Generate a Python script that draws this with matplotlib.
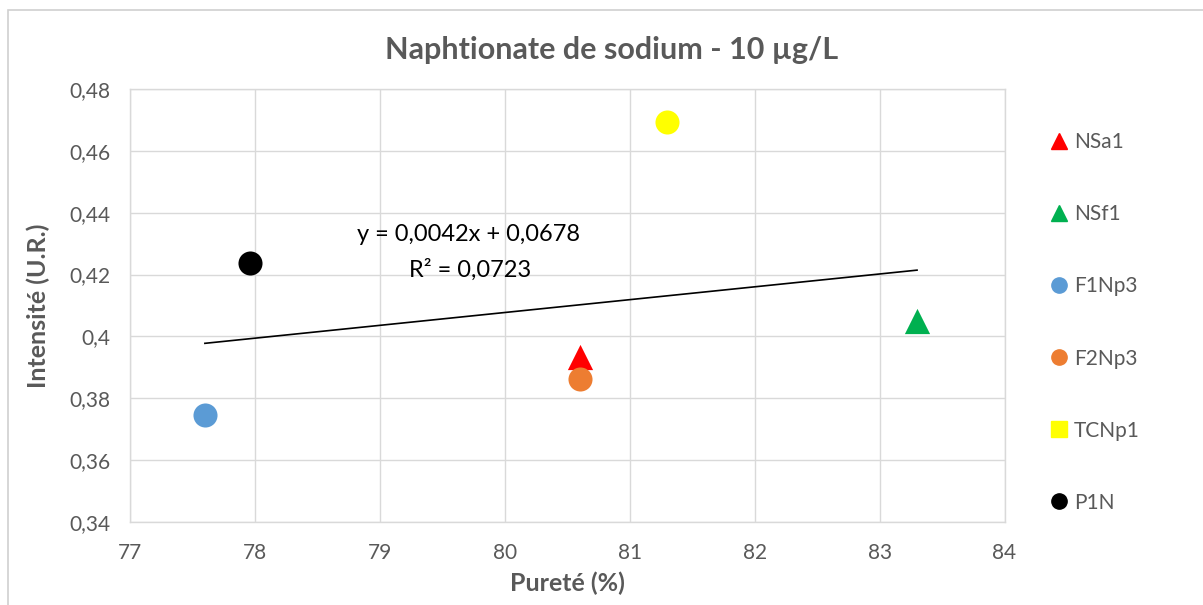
import matplotlib.pyplot as plt
from matplotlib.lines import Line2D
from matplotlib.patches import Rectangle
from matplotlib.ticker import FuncFormatter
import numpy as np

plt.rcParams['font.family'] = ['Lato', 'DejaVu Sans']

# data
names = ['NSa1', 'NSf1', 'F1Np3', 'F2Np3', 'TCNp1', 'P1N']
purete = [80.6, 83.3, 77.6, 80.6, 81.3, 77.96]
intensite = [0.3933, 0.405, 0.3746, 0.3862, 0.4693, 0.4237]
colors = ['#FF0000', '#00B050', '#5B9BD5', '#ED7D31', '#FFFF00', '#000000']
markers = ['^', '^', 'o', 'o', 'o', 'o']
legend_markers = ['^', '^', 'o', 'o', 's', 'o']

C_TEXT = '#595959'
C_GRID = '#D9D9D9'

fig = plt.figure(figsize=(12.03, 6.05), dpi=100, facecolor='white')
ax = fig.add_axes([0.108, 0.137, 0.727, 0.716])

# chart border (Excel chart area)
fig.patches.append(Rectangle((8 / 1203, -0.1), 1.2, 1 - 10 / 605 + 0.1,
                             transform=fig.transFigure, fill=False,
                             edgecolor='#D0D0D0', linewidth=1.2))

for x, y, c, m in zip(purete, intensite, colors, markers):
    size = 300 if m == 'o' else 330
    ax.scatter(x, y, s=size, color=c, marker=m, zorder=3, linewidths=0)

# linear trendline
coef = np.polyfit(purete, intensite, 1)
xs = np.array([min(purete), max(purete)])
ax.plot(xs, np.polyval(coef, xs), color='black', linewidth=1.2, zorder=2)

ax.text(79.71, 0.4328, 'y = 0,0042x + 0,0678', ha='center', va='center',
        fontsize=17, color='black')
ax.text(79.72, 0.4215, 'R² = 0,0723', ha='center', va='center',
        fontsize=17, color='black')

ax.set_xlim(77, 84)
ax.set_ylim(0.34, 0.48)
ax.set_xticks(np.arange(77, 85, 1))
ax.set_yticks(np.arange(0.34, 0.4801, 0.02))
ax.yaxis.set_major_formatter(FuncFormatter(
    lambda v, p: ('%.2f' % v).rstrip('0').replace('.', ',')))

ax.grid(True, color=C_GRID, linewidth=1)
ax.set_axisbelow(True)
for s in ax.spines.values():
    s.set_color(C_GRID)
    s.set_linewidth(1)
ax.tick_params(length=0, labelsize=15, colors=C_TEXT)
ax.tick_params(axis='x', pad=15)
ax.tick_params(axis='y', pad=14)

ax.set_xlabel('Pureté (%)', fontsize=18, fontweight='bold', color=C_TEXT, labelpad=6)
ax.set_ylabel('Intensité (U.R.)', fontsize=18, fontweight='bold', color=C_TEXT, labelpad=14)

fig.text(0.508, 0.917, 'Naphtionate de sodium - 10 µg/L', ha='center', va='center',
         fontsize=22, fontweight='bold', color=C_TEXT)

handles = [Line2D([], [], linestyle='none', marker=m, color=c, markersize=11)
           for m, c in zip(legend_markers, colors)]
leg = fig.legend(handles, names, loc='center left', bbox_to_anchor=(0.858, 0.467),
                 frameon=False, fontsize=15, labelspacing=2.5, handlelength=0.8,
                 handletextpad=0.3, labelcolor=C_TEXT)

fig.savefig('out.png', dpi=100, facecolor='white')
